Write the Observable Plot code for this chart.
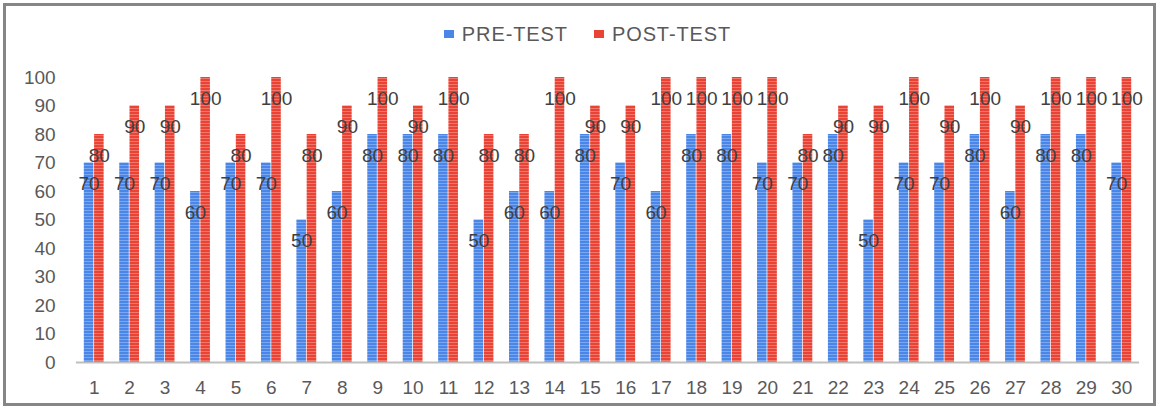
<!DOCTYPE html>
<html>
<head>
<meta charset="utf-8">
<script src="https://cdn.jsdelivr.net/npm/d3@7"></script>
<script src="https://cdn.jsdelivr.net/npm/@observablehq/plot@0.6"></script>
<style>
  html, body { margin: 0; padding: 0; background: #fff; }
  #frame {
    position: absolute; left: 3px; top: 3px; width: 1147px; height: 397px;
    border: 3px solid #858585; background: #fff; overflow: hidden;
    font-family: "Liberation Sans", Arial, sans-serif;
  }
  #legend {
    position: absolute; top: 15px; left: 8px; width: 100%; height: 26px;
    display: flex; justify-content: center; align-items: center; gap: 26px;
    font-size: 20px; color: #595959; letter-spacing: 0.9px;
  }
  #legend .item { display: flex; align-items: center; gap: 8px; }
  #legend .sw { width: 10px; height: 8px; display: inline-block; }
  #chart { position: absolute; left: 0; top: 48px; }
</style>
</head>
<body>
<div id="frame">
  <div id="legend"></div>
  <div id="chart"></div>
</div>
<script>
const ids = d3.range(1, 31).map(String);
const seriesNames = ["PRE-TEST", "POST-TEST"];
const preTest  = [70,70,70,60,70,70,50,60,80,80,80,50,60,60,80,70,60,80,80,70,70,80,50,70,70,80,60,80,80,70];
const postTest = [80,90,90,100,80,100,80,90,100,90,100,80,80,100,90,90,100,100,100,100,80,90,90,100,90,100,90,100,100,100];
const yTicks = [0,10,20,30,40,50,60,70,80,90,100];
const seriesColors = ["#4a86e8", "#ea4335"];
const seriesLight = ["#79a7f0", "#f2776b"];

const rows = [];
ids.forEach((id, i) => {
  rows.push({id, test: seriesNames[0], value: preTest[i]});
  rows.push({id, test: seriesNames[1], value: postTest[i]});
});

const chart = Plot.plot({
  width: 1147,
  height: 346,
  marginLeft: 70,
  marginRight: 14,
  marginTop: 23,
  marginBottom: 38,
  style: { fontFamily: "Liberation Sans, Arial, sans-serif", fontSize: "19px", color: "#595959", background: "transparent" },
  fx: { domain: ids, paddingInner: 0.4, paddingOuter: 0.2, round: false, axis: "bottom", label: null, tickSize: 0, tickPadding: 18 },
  x: { domain: seriesNames, axis: null, padding: 0.07, round: false },
  y: { domain: [0, 100], ticks: yTicks, tickSize: 0, tickPadding: 28, label: null },
  color: { domain: seriesNames, range: ["url(#stripeBlue)", "url(#stripeRed)"] },
  marks: [
    Plot.barY(rows, { fx: "id", x: "test", y: "value", fill: "test" }),
    Plot.ruleY([0], { stroke: "#bfbfbf", strokeWidth: 2, insetLeft: -7.2, insetRight: -7.2 }),
    Plot.text(rows, { fx: "id", x: "test", y: "value", text: d => String(d.value), dy: 21, fill: "#404040", fontSize: 19 })
  ]
});

// striped pattern definitions
const svgNS = "http://www.w3.org/2000/svg";
const defs = document.createElementNS(svgNS, "defs");
[["stripeBlue", 0], ["stripeRed", 1]].forEach(([id, k]) => {
  const p = document.createElementNS(svgNS, "pattern");
  p.setAttribute("id", id);
  p.setAttribute("patternUnits", "userSpaceOnUse");
  p.setAttribute("width", "4");
  p.setAttribute("height", "3");
  const r1 = document.createElementNS(svgNS, "rect");
  r1.setAttribute("width", "4"); r1.setAttribute("height", "3"); r1.setAttribute("fill", seriesColors[k]);
  const r2 = document.createElementNS(svgNS, "rect");
  r2.setAttribute("width", "4"); r2.setAttribute("height", "1"); r2.setAttribute("fill", seriesLight[k]);
  p.appendChild(r1); p.appendChild(r2);
  defs.appendChild(p);
});
chart.insertBefore(defs, chart.firstChild);
document.getElementById("chart").appendChild(chart);

// legend
const legend = document.getElementById("legend");
seriesNames.forEach((name, k) => {
  const item = document.createElement("span");
  item.className = "item";
  const sw = document.createElement("span");
  sw.className = "sw";
  sw.style.background = seriesColors[k];
  const t = document.createElement("span");
  t.textContent = name;
  item.appendChild(sw); item.appendChild(t);
  legend.appendChild(item);
});
</script>
</body>
</html>
